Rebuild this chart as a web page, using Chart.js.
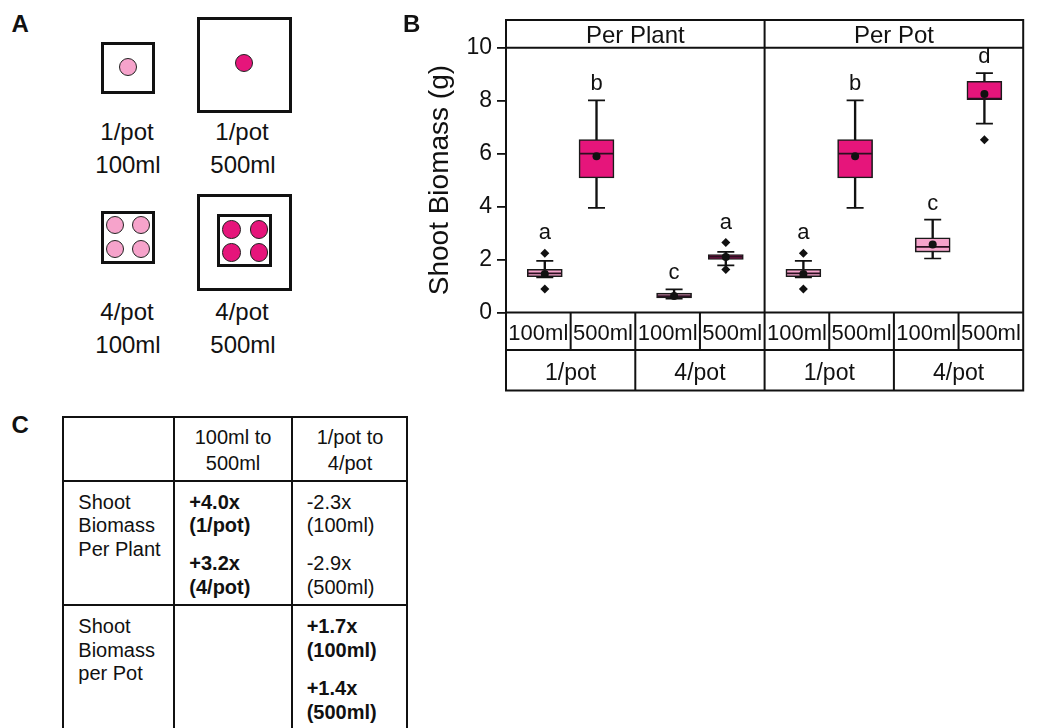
<!DOCTYPE html>
<html>
<head>
<meta charset="utf-8">
<script src="https://cdn.jsdelivr.net/npm/chart.js@4.4.0/dist/chart.umd.min.js"></script>
<style>
html, body { margin: 0; padding: 0; background: #fff; }
body { position: relative; width: 1042px; height: 728px; overflow: hidden;
       font-family: "Liberation Sans", Arial, sans-serif; color: #111; }
.t { position: absolute; white-space: nowrap; line-height: 1; }
.c { transform: translateX(-50%); }
.sq { position: absolute; box-sizing: border-box; border: 3px solid #111; background: #fff; }
.dot { position: absolute; box-sizing: border-box; border: 1.5px solid #222; border-radius: 50%; }
.ln { position: absolute; background: #111; }
#wrapB { position: absolute; left: 400px; top: 0; width: 642px; height: 400px; }
</style>
</head>
<body>
<div id="wrapB"><canvas id="chart_box" width="642" height="400"></canvas></div>

<script>
// facets and groups
var panels = ['Per Plant', 'Per Pot'];
var densities = ['1/pot', '4/pot'];
var volumes = ['100ml', '500ml'];

// one value per box: Per Plant (1/pot 100, 1/pot 500, 4/pot 100, 4/pot 500), then Per Pot
var q1 = [1.35, 5.08, 0.55, 2.00, 1.35, 5.08, 2.28, 8.04];
var q3 = [1.63, 6.53, 0.73, 2.19, 1.63, 6.53, 2.82, 8.73];
var medians = [1.48, 6.00, 0.62, 2.10, 1.48, 6.00, 2.48, 8.08];
var means = [1.45, 5.90, 0.62, 2.10, 1.45, 5.90, 2.57, 8.25];
var whiskerLo = [1.33, 3.95, 0.52, 1.78, 1.33, 3.95, 2.04, 7.13];
var whiskerHi = [1.95, 8.01, 0.87, 2.29, 1.95, 8.01, 3.51, 9.04];
var outliers = [[0.89, 2.24], [], [], [1.62, 2.64], [0.89, 2.24], [], [], [6.52]];
var letters = ['a', 'b', 'c', 'a', 'a', 'b', 'c', 'd'];

var yTicks = { min: 0, max: 10, step: 2 };

var pink = ['#f6a3cb', '#e6157b'];
var fontFam = '"Liberation Sans", Arial, sans-serif';

// ---- panel A and C (plain html) ----
function txt(str, x, base, size, bold, center) {
    var d = document.createElement('div');
    d.className = 't' + (center ? ' c' : '');
    d.textContent = str;
    d.style.left = x + 'px';
    d.style.top = (base - 0.8305 * size) + 'px';
    d.style.fontSize = size + 'px';
    if (bold) d.style.fontWeight = 'bold';
    document.body.appendChild(d);
}
function sq(x, y, w, h) {
    var d = document.createElement('div');
    d.className = 'sq';
    d.style.cssText = 'left:' + x + 'px;top:' + y + 'px;width:' + w + 'px;height:' + h + 'px;';
    document.body.appendChild(d);
}
function dot(cx, cy, r, col) {
    var d = document.createElement('div');
    d.className = 'dot';
    d.style.cssText = 'left:' + (cx - r) + 'px;top:' + (cy - r) + 'px;width:' + 2 * r + 'px;height:' + 2 * r + 'px;background:' + col + ';';
    document.body.appendChild(d);
}
function ln(x, y, w, h) {
    var d = document.createElement('div');
    d.className = 'ln';
    d.style.cssText = 'left:' + x + 'px;top:' + y + 'px;width:' + w + 'px;height:' + h + 'px;';
    document.body.appendChild(d);
}

txt('A', 11.5, 32.3, 24, true);
txt('B', 403, 32.3, 24, true);
txt('C', 11.5, 433.3, 24, true);

sq(101, 42, 54, 52);
dot(128.3, 67.3, 9, pink[0]);
sq(197, 17, 95, 96);
dot(243.7, 63.3, 9, pink[1]);
sq(101, 211, 54, 53);
[[115, 225.3], [141.3, 225.3], [115, 248.7], [141.3, 248.7]].forEach(function(p) { dot(p[0], p[1], 9, pink[0]); });
sq(197, 194, 95, 97);
sq(217, 214, 55, 53);
[[231.7, 229.3], [259, 229.3], [231.7, 252.3], [259, 252.3]].forEach(function(p) { dot(p[0], p[1], 9.3, pink[1]); });

txt('1/pot', 127, 140, 24, false, true);
txt('100ml', 128, 173, 24, false, true);
txt('1/pot', 242, 140, 24, false, true);
txt('500ml', 243, 173, 24, false, true);
txt('4/pot', 127, 320, 24, false, true);
txt('100ml', 128, 352.7, 24, false, true);
txt('4/pot', 242, 320, 24, false, true);
txt('500ml', 243, 352.7, 24, false, true);

// table C
ln(61.7, 415.7, 346.6, 2);
ln(61.7, 479.7, 346.6, 2);
ln(61.7, 604, 346.6, 2);
ln(61.7, 415.7, 2, 330);
ln(173, 415.7, 2, 330);
ln(291.3, 415.7, 2, 330);
ln(406.3, 415.7, 2, 330);

txt('100ml to', 233, 444, 20, false, true);
txt('500ml', 233, 469.3, 20, false, true);
txt('1/pot to', 350, 444, 20, false, true);
txt('4/pot', 350, 469.3, 20, false, true);

txt('Shoot', 78.3, 508.3, 20);
txt('Biomass', 78.3, 531.8, 20);
txt('Per Plant', 78.3, 555.3, 20);
txt('+4.0x', 189.3, 508.3, 20, true);
txt('(1/pot)', 189.3, 531.7, 20, true);
txt('+3.2x', 189.3, 570, 20, true);
txt('(4/pot)', 189.3, 593.3, 20, true);
txt('-2.3x', 306.7, 508.3, 20);
txt('(100ml)', 306.7, 531.7, 20);
txt('-2.9x', 306.7, 570, 20);
txt('(500ml)', 306.7, 593.3, 20);

txt('Shoot', 78.3, 633, 20);
txt('Biomass', 78.3, 656.5, 20);
txt('per Pot', 78.3, 680, 20);
txt('+1.7x', 306.7, 633, 20, true);
txt('(100ml)', 306.7, 656.5, 20, true);
txt('+1.4x', 306.7, 695, 20, true);
txt('(500ml)', 306.7, 718.3, 20, true);

// ---- panel B (Chart.js) ----
var pos = [], boxColors = [];
for (var p = 0; p < panels.length; p++) {
    for (var d = 0; d < densities.length; d++) {
        for (var v = 0; v < volumes.length; v++) {
            pos.push(p * 4 + d * 2 + 1 + (v === 0 ? -0.4 : 0.4));
            boxColors.push(pink[v]);
        }
    }
}

function pts(vals) {
    return vals.map(function(val, i) { return { x: pos[i], y: val }; });
}
var outlierPts = [];
outliers.forEach(function(list, i) {
    list.forEach(function(val) { outlierPts.push({ x: pos[i], y: val }); });
});
var capPts = pts(whiskerLo).concat(pts(whiskerHi));

var facetFrame = {
    id: 'facetFrame',
    afterDatasetsDraw: function(chart) {
        var ctx = chart.ctx, a = chart.chartArea, x = chart.scales.x, y = chart.scales.y;
        ctx.save();
        ctx.fillStyle = '#111';
        ctx.font = '22px ' + fontFam;
        ctx.textAlign = 'center';
        ctx.textBaseline = 'alphabetic';
        letters.forEach(function(l, i) {
            var top = Math.max.apply(null, [whiskerHi[i]].concat(outliers[i]));
            var gap = outliers[i].length && Math.max.apply(null, outliers[i]) > whiskerHi[i] ? 14 : 10;
            ctx.fillText(l, x.getPixelForValue(pos[i]), y.getPixelForValue(top) - gap);
        });
        ctx.restore();
    },
    afterDraw: function(chart) {
        var ctx = chart.ctx, a = chart.chartArea, x = chart.scales.x;
        var stripTop = a.top - 27.7, mlBot = a.bottom + 37.5, potBot = a.bottom + 78;
        ctx.save();
        ctx.strokeStyle = '#111';
        ctx.lineWidth = 2;
        ctx.lineCap = 'square';
        ctx.beginPath();
        [stripTop, a.top, a.bottom, mlBot, potBot].forEach(function(yy) {
            ctx.moveTo(a.left, yy); ctx.lineTo(a.right, yy);
        });
        [0, 4, 8].forEach(function(k) {
            var px = x.getPixelForValue(k);
            ctx.moveTo(px, stripTop); ctx.lineTo(px, potBot);
        });
        for (var k = 1; k < 8; k++) {
            var px = x.getPixelForValue(k);
            ctx.moveTo(px, a.bottom); ctx.lineTo(px, k % 2 ? mlBot : potBot);
        }
        ctx.stroke();

        ctx.fillStyle = '#111';
        ctx.textAlign = 'center';
        ctx.textBaseline = 'alphabetic';
        ctx.font = '24px ' + fontFam;
        panels.forEach(function(name, i) {
            ctx.fillText(name, x.getPixelForValue(i * 4 + 2), a.top - 4.5);
        });
        ctx.font = '22px ' + fontFam;
        for (var m = 0; m < 8; m++) {
            ctx.fillText(volumes[m % 2], x.getPixelForValue(m + 0.5), a.bottom + 27);
        }
        ctx.font = '23px ' + fontFam;
        for (var g = 0; g < 4; g++) {
            ctx.fillText(densities[g % 2], x.getPixelForValue(g * 2 + 1), a.bottom + 67);
        }
        ctx.restore();
    }
};

Chart.defaults.font.family = fontFam;
Chart.defaults.color = '#111';

var canvas = document.getElementById('chart_box').getContext('2d');
window.boxChart = new Chart(canvas, {
    type: 'bar',
    data: {
        datasets: [{
                // whiskers
                type: 'bar',
                data: pos.map(function(px, i) { return { x: px, y: [whiskerLo[i], whiskerHi[i]] }; }),
                backgroundColor: '#111',
                barThickness: 1.7,
                grouped: false,
                order: 4
            }, {
                // boxes
                type: 'bar',
                data: pos.map(function(px, i) { return { x: px, y: [q1[i], q3[i]] }; }),
                backgroundColor: boxColors,
                borderColor: '#1a1a1a',
                borderWidth: 1.6,
                borderSkipped: false,
                barThickness: 35,
                grouped: false,
                order: 3
            }, {
                // whisker caps
                type: 'scatter',
                data: capPts,
                pointStyle: 'line',
                pointRadius: 8.5,
                pointBorderWidth: 1.7,
                pointBorderColor: '#111',
                order: 2
            }, {
                // medians
                type: 'scatter',
                data: pts(medians),
                pointStyle: 'line',
                pointRadius: 17,
                pointBorderWidth: 1.8,
                pointBorderColor: '#2a1020',
                order: 1
            }, {
                // means
                type: 'scatter',
                data: pts(means),
                pointStyle: 'circle',
                pointRadius: 4,
                pointBorderWidth: 0,
                pointBackgroundColor: '#111',
                order: 0
            }, {
                // outliers
                type: 'scatter',
                data: outlierPts,
                pointStyle: 'rectRot',
                pointRadius: 4.5,
                pointBorderWidth: 0,
                pointBackgroundColor: '#111',
                order: 0
            }
        ]
    },
    options: {
        responsive: false,
        animation: false,
        layout: { padding: { left: 0, right: 2.5, top: 47.7, bottom: 87.5 } },
        plugins: {
            legend: { display: false },
            tooltip: { enabled: false }
        },
        scales: {
            x: { type: 'linear', min: 0, max: 8, offset: false, display: false },
            y: {
                min: yTicks.min,
                max: yTicks.max,
                ticks: { stepSize: yTicks.step, padding: 5, font: { size: 23 }, color: '#111' },
                grid: { drawOnChartArea: false, tickLength: 9, color: '#111', lineWidth: 1.8 },
                border: { color: '#111', width: 2 },
                title: { display: true, text: 'Shoot Biomass (g)', font: { size: 28 }, color: '#111', padding: { top: 23, bottom: 0 } },
                afterFit: function(scale) { scale.width = 106; }
            }
        }
    },
    plugins: [facetFrame]
});
</script>
</body>
</html>
